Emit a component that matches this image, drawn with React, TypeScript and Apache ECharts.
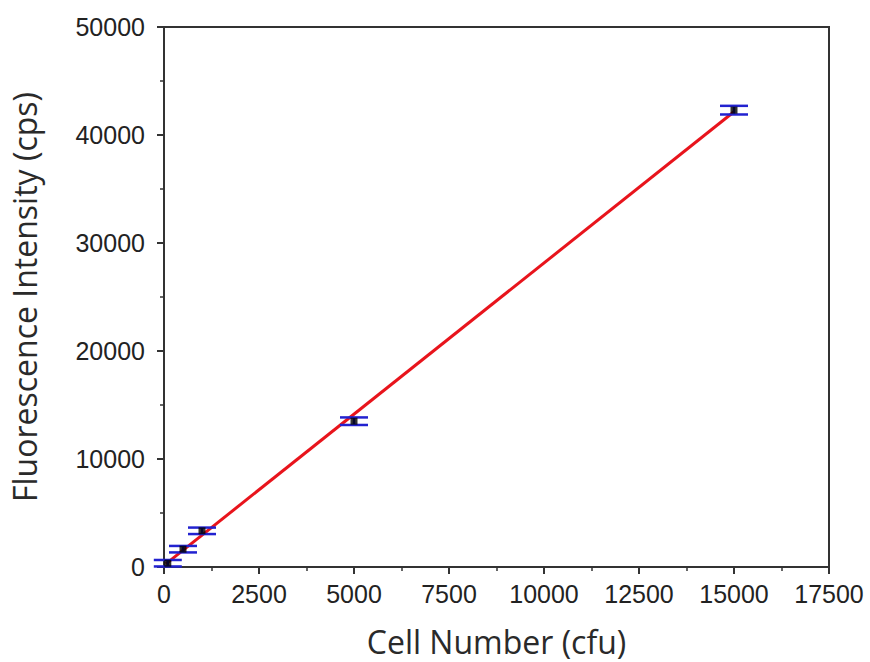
import React, { useEffect, useRef } from "react";
import * as echarts from "echarts";

const cellNumbers = [100, 500, 1000, 5000, 15000];
const intensities = [350, 1650, 3350, 13500, 42300];
const errors = [300, 300, 300, 350, 400];
const fitX = [50, 15000];
const fitY = [290, 42150];

const FONT = "'Liberation Sans', Arial, sans-serif";
const TITLE_FONT = "'Open Sans', sans-serif";

export default function App() {
  const ref = useRef<HTMLDivElement>(null);
  useEffect(() => {
    const chart = echarts.init(ref.current!, null, { renderer: "svg" });
    const pts = cellNumbers.map((x, i) => [x, intensities[i]]);
    const errData = cellNumbers.map((x, i) => [x, intensities[i] - errors[i], intensities[i] + errors[i]]);
    chart.setOption({
      animation: false,
      backgroundColor: "#ffffff",
      grid: { left: 163, right: 41, top: 27, bottom: 92, show: true, borderColor: "#333", borderWidth: 2, backgroundColor: "transparent" },
      xAxis: {
        type: "value",
        min: 0,
        max: 17500,
        interval: 2500,
        name: "Cell Number (cfu)",
        nameLocation: "middle",
        nameGap: 58,
        nameTextStyle: { fontFamily: TITLE_FONT, fontSize: 32, color: "#2a2a2a" },
        axisLine: { show: true, lineStyle: { color: "#333", width: 2 } },
        axisTick: { show: true, inside: false, length: 7, lineStyle: { color: "#333", width: 2 } },
        minorTick: { show: true, splitNumber: 2, length: 4, lineStyle: { color: "#333", width: 1.5 } },
        splitLine: { show: false },
        axisLabel: { fontFamily: FONT, fontSize: 25, color: "#222", margin: 14, showMaxLabel: true, formatter: (v: number) => String(v) },
      },
      yAxis: {
        type: "value",
        min: 0,
        max: 50000,
        interval: 10000,
        name: "Fluorescence Intensity (cps)",
        nameLocation: "middle",
        nameGap: 124,
        nameTextStyle: { fontFamily: TITLE_FONT, fontSize: 32, color: "#2a2a2a" },
        axisLine: { show: true, lineStyle: { color: "#333", width: 2 } },
        axisTick: { show: true, inside: false, length: 7, lineStyle: { color: "#333", width: 2 } },
        minorTick: { show: true, splitNumber: 2, length: 4, lineStyle: { color: "#333", width: 1.5 } },
        splitLine: { show: false },
        axisLabel: { fontFamily: FONT, fontSize: 25, color: "#222", margin: 19, formatter: (v: number) => String(v) },
      },
      series: [
        {
          type: "line",
          data: fitX.map((x, i) => [x, fitY[i]]),
          showSymbol: false,
          lineStyle: { color: "#e8141c", width: 3 },
          z: 3,
        },
        {
          type: "custom",
          data: errData,
          z: 4,
          renderItem: (params: any, api: any) => {
            const x = api.value(0);
            const lo = api.coord([x, api.value(1)]);
            const hi = api.coord([x, api.value(2)]);
            const hw = 14;
            const style = { stroke: "#2222d0", lineWidth: 2.5 };
            return {
              type: "group",
              children: [
                { type: "line", shape: { x1: lo[0], y1: lo[1], x2: hi[0], y2: hi[1] }, style },
                { type: "line", shape: { x1: lo[0] - hw, y1: lo[1], x2: lo[0] + hw, y2: lo[1] }, style },
                { type: "line", shape: { x1: hi[0] - hw, y1: hi[1], x2: hi[0] + hw, y2: hi[1] }, style },
              ],
            };
          },
        },
        {
          type: "scatter",
          data: pts,
          symbol: "rect",
          symbolSize: 7,
          itemStyle: { color: "#000" },
          z: 5,
        },
      ],
    });
    return () => chart.dispose();
  }, []);
  return <div ref={ref} style={{ position: "fixed", left: 0, top: 0, width: 870, height: 662 }} />;
}
